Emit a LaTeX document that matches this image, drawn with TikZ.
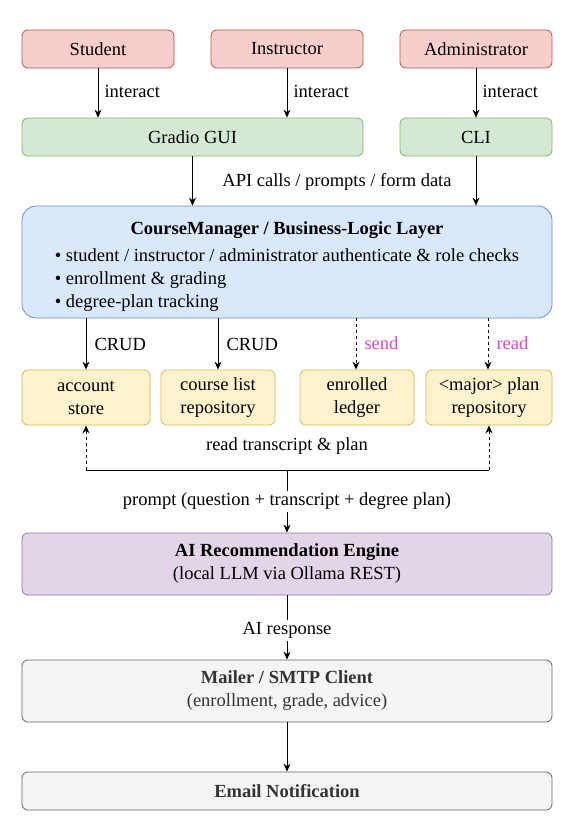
\documentclass[tikz,border=0pt]{standalone}
\usepackage{fontspec}
\setmainfont{Liberation Serif}
\usetikzlibrary{arrows.meta}

\definecolor{actorfill}{HTML}{F8CECC}
\definecolor{actordraw}{HTML}{B85450}
\definecolor{uifill}{HTML}{D5E8D4}
\definecolor{uidraw}{HTML}{82B366}
\definecolor{corefill}{HTML}{DAE8FC}
\definecolor{coredraw}{HTML}{6C8EBF}
\definecolor{storefill}{HTML}{FFF2CC}
\definecolor{storedraw}{HTML}{D6B656}
\definecolor{enginefill}{HTML}{E1D5E7}
\definecolor{enginedraw}{HTML}{9673A6}
\definecolor{mailfill}{HTML}{F5F5F5}
\definecolor{maildraw}{HTML}{666666}
\definecolor{mailtext}{HTML}{333333}
\definecolor{pinklabel}{HTML}{D44BC8}

\begin{document}
\begin{tikzpicture}[x=1pt,y=-1pt,>={Stealth[length=8pt,width=7pt]},line width=1pt,
    font=\fontsize{18.5}{23}\selectfont]
    % Styles
    \tikzstyle{block} = [rectangle, draw, rounded corners=6pt, inner sep=0pt,
                         align=center, line width=0.8pt]
    \tikzstyle{actor} = [block, fill=actorfill, draw=actordraw,
                         minimum width=152, minimum height=38]
    \tikzstyle{ui}    = [block, fill=uifill, draw=uidraw, minimum height=38]
    \tikzstyle{store} = [block, fill=storefill, draw=storedraw, minimum height=55]
    \tikzstyle{wide}  = [block, minimum width=530]
    \tikzstyle{lbl}   = [inner sep=2pt]
    \tikzstyle{arrow} = [->]
    \tikzstyle{dasharrow} = [->, dash pattern=on 3pt off 3pt]

    \useasboundingbox (0,0) rectangle (573,835);

    % ==== Users and front ends ====
    \node[actor] (student)    at (98,49)  {Student};
    \node[actor] (instructor) at (287,49) {Instructor};
    \node[actor] (admin)      at (476,49) {Administrator};
    \node[ui, minimum width=341] (gui) at (192.5,137) {Gradio GUI};
    \node[ui, minimum width=152] (cli) at (476,137)   {CLI};

    % ==== Business logic ====
    \node[wide, fill=corefill, draw=coredraw, rounded corners=14pt,
          minimum height=112] (core) at (287,262)
        {\raisebox{-4pt}[\height][\depth]{\begin{tabular}{@{}l@{}}
         \multicolumn{1}{c}{\textbf{CourseManager / Business-Logic Layer}}\\[4pt]
         \textbullet\ student / instructor / administrator authenticate \& role checks\\
         \textbullet\ enrollment \& grading\\
         \textbullet\ degree-plan tracking
         \end{tabular}}};

    % ==== Stores ====
    \node[store, minimum width=128] (account) at (86,397.5)  {account\\store};
    \node[store, minimum width=114] (courses) at (218,397.5) {course list\\repository};
    \node[store, minimum width=114] (ledger)  at (357,397.5) {enrolled\\ledger};
    \node[store, minimum width=126] (plans)   at (489,397.5) {<major> plan\\repository};

    % ==== AI and mail ====
    \node[wide, fill=enginefill, draw=enginedraw, minimum height=62] (engine) at (287,564)
        {\textbf{AI Recommendation Engine}\\(local LLM via Ollama REST)};
    \node[wide, fill=mailfill, draw=maildraw, text=mailtext, minimum height=62] (mailer) at (287,691)
        {\textbf{Mailer / SMTP Client}\\(enrollment, grade, advice)};
    \node[wide, fill=mailfill, draw=maildraw, text=mailtext, minimum height=38] (email) at (287,791)
        {\textbf{Email Notification}};

    % ==== Arrows ====
    \draw[arrow] (student)    -- node[lbl, right=4pt, yshift=2pt] {interact} (student |- gui.north);
    \draw[arrow] (instructor) -- node[lbl, right=4pt, yshift=2pt] {interact} (instructor |- gui.north);
    \draw[arrow] (admin)      -- node[lbl, right=4pt, yshift=2pt] {interact} (admin |- cli.north);

    \draw[arrow] (gui) -- (gui |- core.north);
    \draw[arrow] (cli) -- (cli |- core.north);
    \node[lbl] (apicalls) at (337,182) {API calls / prompts / form data};

    \draw[arrow] (account |- core.south) -- node[lbl, right=6pt] {CRUD} (account);
    \draw[arrow] (courses |- core.south) -- node[lbl, right=6pt] {CRUD} (courses);
    \draw[dasharrow] (ledger.north -| 356,0) ++(0,-52) -- node[lbl, right=6pt, text=pinklabel] {send} (ledger.north -| 356,0);
    \draw[dasharrow] (plans.north -| 488,0) ++(0,-52) -- node[lbl, right=6pt, text=pinklabel] {read} (plans.north -| 488,0);

    % bus from the stores down to the engine
    \coordinate (bus) at (287,470);
    \draw (account |- bus) -- (plans |- bus);
    \draw[dasharrow] (account |- bus) -- (account.south);
    \draw[dasharrow] (plans |- bus) -- (plans.south);
    \node[lbl] (readlabel) at (287,446) {read transcript \& plan};
    \draw[arrow] (bus) -- node[lbl, fill=white] {prompt (question + transcript + degree plan)} (engine.north);

    \draw[arrow] (engine) -- node[lbl, fill=white, yshift=-3pt] {AI response} (mailer);
    \draw[arrow] (mailer) -- (email);
\end{tikzpicture}
\end{document}
